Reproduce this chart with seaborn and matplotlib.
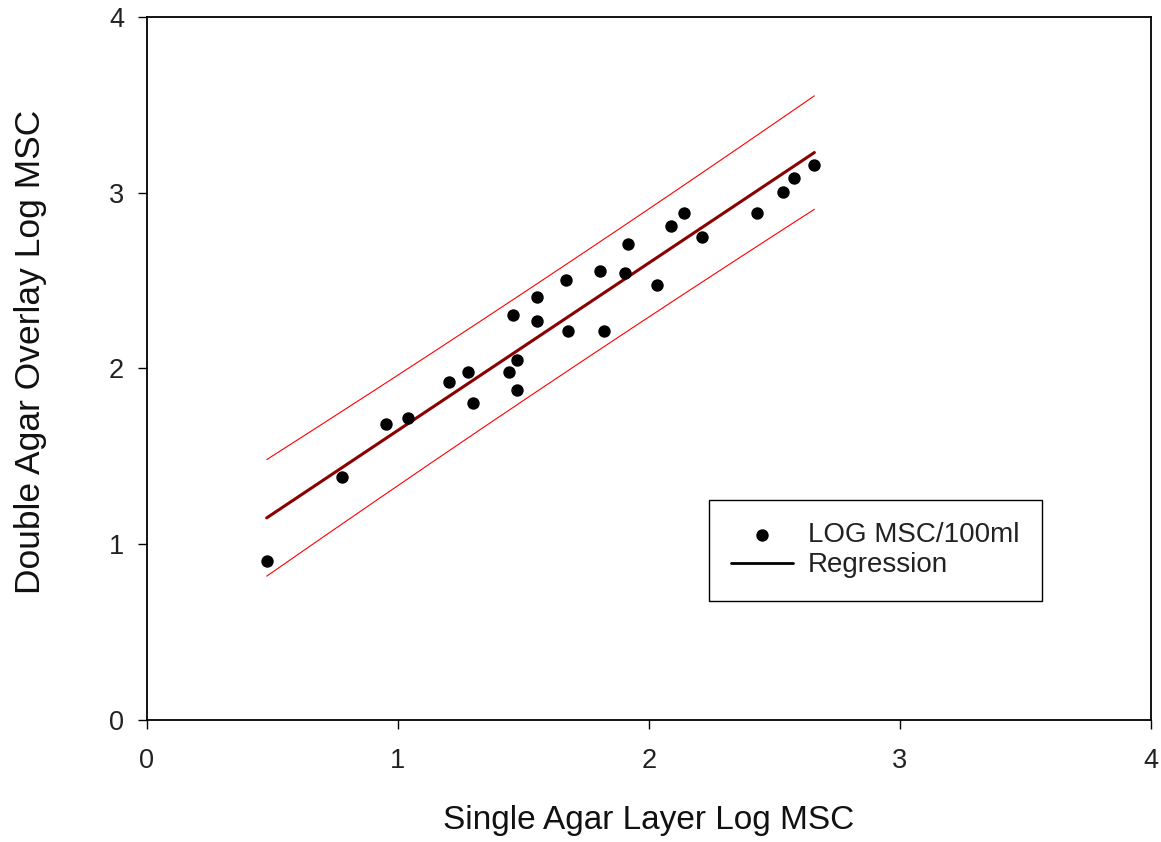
import numpy as np
import pandas as pd
import matplotlib
matplotlib.use("Agg")
import matplotlib.pyplot as plt
import seaborn as sns

# Data
single_log_msc = [0.477, 0.778, 0.953, 1.041, 1.203, 1.278, 1.298, 1.443, 1.473,
                  1.473, 1.459, 1.554, 1.554, 1.669, 1.678, 1.804, 1.822, 1.906,
                  1.916, 2.031, 2.086, 2.141, 2.210, 2.432, 2.533, 2.578, 2.659]
double_log_msc = [0.905, 1.381, 1.683, 1.717, 1.923, 1.980, 1.805, 1.980, 2.047,
                  1.879, 2.306, 2.409, 2.272, 2.505, 2.213, 2.557, 2.213, 2.542,
                  2.707, 2.475, 2.813, 2.887, 2.750, 2.884, 3.003, 3.086, 3.158]
x_ticks = [0, 1, 2, 3, 4]
y_ticks = [0, 1, 2, 3, 4]
x_label = "Single Agar Layer Log MSC"
y_label = "Double Agar Overlay Log MSC"
series_label = "LOG MSC/100ml"
fit_label = "Regression"

df = pd.DataFrame({"x": single_log_msc, "y": double_log_msc})

# Linear regression with 95% prediction bands
x = df["x"].to_numpy()
y = df["y"].to_numpy()
n = len(x)
slope, intercept = np.polyfit(x, y, 1)
resid = y - (slope * x + intercept)
s = np.sqrt(np.sum(resid ** 2) / (n - 2))
t_val = 2.0595  # t(0.975, df=25)
xm = x.mean()
sxx = np.sum((x - xm) ** 2)
xf = np.linspace(x.min(), x.max(), 200)
yf = slope * xf + intercept
half = t_val * s * np.sqrt(1 + 1 / n + (xf - xm) ** 2 / sxx)

sns.set_style("ticks")
plt.rcParams["font.family"] = ["Liberation Sans", "DejaVu Sans"]

fig = plt.figure(figsize=(11.61, 8.42), dpi=100)
ax = fig.add_axes([0.1266, 0.1449, 1004 / 1161, 703 / 842])

ax.plot(xf, yf + half, color="#ff0000", lw=0.8, zorder=2)
ax.plot(xf, yf - half, color="#ff0000", lw=0.8, zorder=2)
ax.plot(xf, yf, color="#8b0000", lw=2.2, zorder=3, label=fit_label)
sns.scatterplot(data=df, x="x", y="y", ax=ax, color="black", s=80,
                edgecolor="black", linewidth=0, zorder=4, label=series_label)

ax.set_xlim(0, 4)
ax.set_ylim(0, 4)
ax.set_xticks(x_ticks)
ax.set_yticks(y_ticks)
ax.set_xticklabels([str(v) for v in x_ticks])
ax.set_yticklabels([str(v) for v in y_ticks])
ax.tick_params(direction="out", length=6.5, width=1.0, labelsize=19.5,
               colors="#222222")
ax.tick_params(axis="x", pad=14, color="black")
ax.tick_params(axis="y", pad=10, color="black")
for sp in ax.spines.values():
    sp.set_visible(True)
    sp.set_linewidth(1.3)
    sp.set_color("black")

ax.set_xlabel(x_label, fontsize=24, labelpad=22, color="#111111")
ax.set_ylabel(y_label, fontsize=25.5, color="#111111", va="center")
ax.yaxis.set_label_coords(-0.1165, 0.523)

handles, labels = ax.get_legend_handles_labels()
order = [labels.index(series_label), labels.index(fit_label)]
leg = ax.legend([handles[i] for i in order], [labels[i] for i in order],
                loc="upper left", bbox_to_anchor=(0.560, 0.313),
                fontsize=20, frameon=True, fancybox=False, framealpha=1,
                edgecolor="black", borderpad=0.8, handlelength=2.2,
                handletextpad=0.55, labelspacing=0.15, borderaxespad=0)
leg.get_frame().set_linewidth(1.0)
leg.legend_handles[1].set_color("black")
leg.legend_handles[1].set_linewidth(2.0)
for t in leg.get_texts():
    t.set_color("#222222")

fig.savefig("out.png", dpi=100)
